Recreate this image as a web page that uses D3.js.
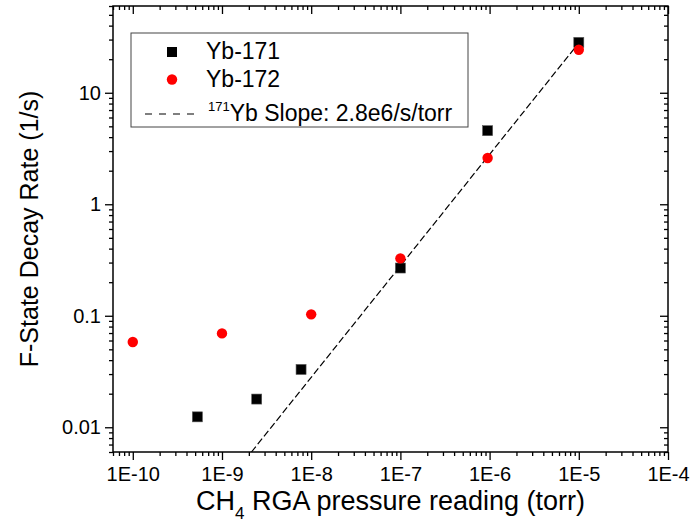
<!DOCTYPE html>
<html>
<head>
<meta charset="utf-8">
<script src="https://cdn.jsdelivr.net/npm/d3@7"></script>
<style>
  body { margin: 0; background: #fff; }
  svg { font-family: "Liberation Sans", Arial, sans-serif; }
</style>
</head>
<body>
<script>
// data
var yb171Pressure = [5.3e-10, 2.45e-9, 7.7e-9, 1e-7, 9.5e-7, 1e-5];
var yb171Rate     = [0.0124, 0.0179, 0.033, 0.268, 4.57, 28.3];
var yb172Pressure = [1e-10, 1e-9, 1e-8, 1e-7, 9.5e-7, 1e-5];
var yb172Rate     = [0.0582, 0.0695, 0.103, 0.327, 2.6, 24.3];
// 171Yb fit, slope 2.8e6 /s/torr (end points)
var fitPressure = [2.14e-9, 1e-5];
var fitRate     = [0.006, 28];

var xMajor = [1e-10, 1e-9, 1e-8, 1e-7, 1e-6, 1e-5, 1e-4];
var xLabels = ["1E-10", "1E-9", "1E-8", "1E-7", "1E-6", "1E-5", "1E-4"];
var yMajor = [0.01, 0.1, 1, 10];
var yLabels = ["0.01", "0.1", "1", "10"];

// set the dimensions and margins of the graph
var margin = {top: 6, right: 30, bottom: 76, left: 113},
    width = 698 - margin.left - margin.right,
    height = 528 - margin.top - margin.bottom;

var x = d3.scaleLog().domain([6e-11, 1e-4]).range([0, width]);
var y = d3.scaleLog().domain([0.006, 60]).range([height, 0]);

var svg = d3.select("body").append("svg")
    .attr("width", 698)
    .attr("height", 528)
  .append("g")
    .attr("transform", "translate(" + margin.left + "," + margin.top + ")");

svg.append("clipPath").attr("id", "clip")
  .append("rect").attr("width", width).attr("height", height);

// minor ticks = log ticks that are not powers of ten
function minors(scale) {
  return scale.ticks().filter(function(v) {
    var l = Math.log10(v);
    return Math.abs(l - Math.round(l)) > 1e-6;
  });
}

function styleAxis(g) {
  g.select(".domain").remove();
  g.selectAll(".tick line").attr("stroke", "#000").attr("stroke-width", 1.3);
  g.selectAll(".tick text").attr("fill", "#000")
    .style("font-size", "20px")
    .style("font-family", "'Liberation Sans', Arial, sans-serif");
}

// bottom axis (outward)
svg.append("g")
    .attr("transform", "translate(0," + height + ")")
    .call(d3.axisBottom(x).tickValues(xMajor).tickSize(8).tickPadding(7)
      .tickFormat(function(d, i) { return xLabels[i]; }))
    .call(styleAxis);
svg.append("g")
    .attr("transform", "translate(0," + height + ")")
    .call(d3.axisBottom(x).tickValues(minors(x)).tickSize(4).tickFormat(""))
    .call(styleAxis);

// top axis (inward)
svg.append("g")
    .call(d3.axisBottom(x).tickValues(xMajor).tickSize(8).tickFormat(""))
    .call(styleAxis);
svg.append("g")
    .call(d3.axisBottom(x).tickValues(minors(x)).tickSize(4).tickFormat(""))
    .call(styleAxis);

// left axis (outward)
svg.append("g")
    .call(d3.axisLeft(y).tickValues(yMajor).tickSize(8).tickPadding(4)
      .tickFormat(function(d, i) { return yLabels[i]; }))
    .call(styleAxis);
svg.append("g")
    .call(d3.axisLeft(y).tickValues(minors(y)).tickSize(4).tickFormat(""))
    .call(styleAxis);

// right axis (inward)
svg.append("g")
    .attr("transform", "translate(" + width + ",0)")
    .call(d3.axisLeft(y).tickValues(yMajor).tickSize(8).tickFormat(""))
    .call(styleAxis);
svg.append("g")
    .attr("transform", "translate(" + width + ",0)")
    .call(d3.axisLeft(y).tickValues(minors(y)).tickSize(4).tickFormat(""))
    .call(styleAxis);

// frame
svg.append("rect")
    .attr("width", width).attr("height", height)
    .attr("fill", "none").attr("stroke", "#000").attr("stroke-width", 1.5);

// fit line
var fitData = fitPressure.map(function(p, i) { return {p: p, r: fitRate[i]}; });
svg.append("path")
    .datum(fitData)
    .attr("clip-path", "url(#clip)")
    .attr("fill", "none")
    .attr("stroke", "#000")
    .attr("stroke-width", 1.2)
    .attr("stroke-dasharray", "7,3")
    .attr("d", d3.line()
      .x(function(d) { return x(d.p); })
      .y(function(d) { return y(d.r); }));

// Yb-171 squares
svg.selectAll(".sq")
    .data(yb171Pressure)
  .enter().append("rect")
    .attr("class", "sq")
    .attr("width", 10).attr("height", 10)
    .attr("x", function(d) { return x(d) - 5; })
    .attr("y", function(d, i) { return y(yb171Rate[i]) - 5; })
    .attr("fill", "#000")
    .attr("stroke", "#555").attr("stroke-width", 0.6);

// Yb-172 circles
svg.selectAll(".dot")
    .data(yb172Pressure)
  .enter().append("circle")
    .attr("class", "dot")
    .attr("r", 5.2)
    .attr("cx", function(d) { return x(d); })
    .attr("cy", function(d, i) { return y(yb172Rate[i]); })
    .attr("fill", "#ff0000");

// legend
var lg = svg.append("g").attr("transform", "translate(" + (131 - margin.left) + "," + (33 - margin.top) + ")");
lg.append("rect")
    .attr("width", 337).attr("height", 94)
    .attr("fill", "#fff").attr("stroke", "#444").attr("stroke-width", 1);
lg.append("rect").attr("x", 36).attr("y", 14).attr("width", 10).attr("height", 10).attr("fill", "#000");
lg.append("circle").attr("cx", 41).attr("cy", 46.5).attr("r", 5.2).attr("fill", "#ff0000");
lg.append("line")
    .attr("x1", 14).attr("x2", 67).attr("y1", 81).attr("y2", 81)
    .attr("stroke", "#000").attr("stroke-width", 1.2).attr("stroke-dasharray", "7,7");
lg.append("text").attr("x", 75).attr("y", 25.5).style("font-size", "23px").text("Yb-171");
lg.append("text").attr("x", 75).attr("y", 54).style("font-size", "23px").text("Yb-172");
var t3 = lg.append("text").attr("x", 77).attr("y", 88).style("font-size", "23px");
t3.append("tspan").attr("dy", "-10").style("font-size", "13px").text("171");
t3.append("tspan").attr("dy", "10").text("Yb Slope: 2.8e6/s/torr");

// axis titles
var xt = svg.append("text")
    .attr("x", width / 2).attr("y", 504)
    .attr("text-anchor", "middle")
    .style("font-size", "27px");
xt.append("tspan").text("CH");
xt.append("tspan").attr("dy", "9").style("font-size", "17px").text("4");
xt.append("tspan").attr("dy", "-9").text(" RGA pressure reading (torr)");

svg.append("text")
    .attr("transform", "translate(" + (38 - margin.left) + "," + (height / 2) + ") rotate(-90)")
    .attr("text-anchor", "middle")
    .style("font-size", "25px")
    .text("F-State Decay Rate (1/s)");
</script>
</body>
</html>
